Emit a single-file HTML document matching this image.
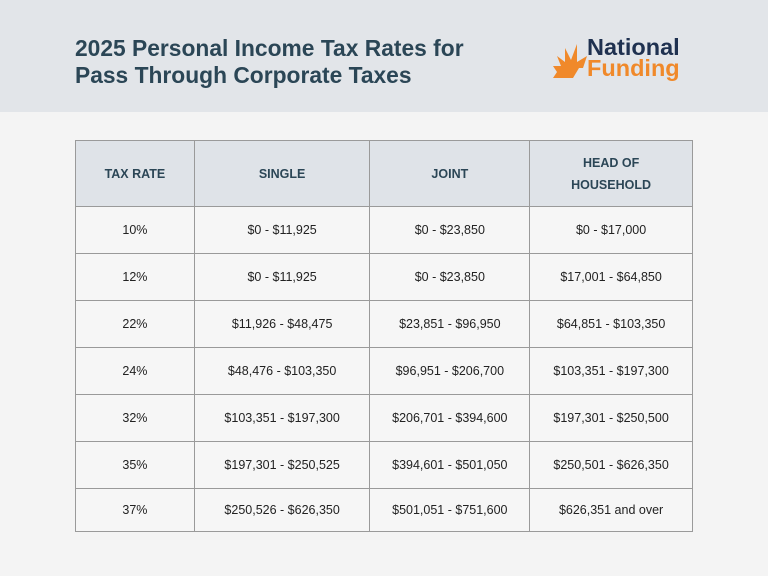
<!DOCTYPE html>
<html><head><style>
body{margin:0;width:768px;height:576px;background:#f4f4f4;font-family:"Liberation Sans",sans-serif;position:relative;overflow:hidden}
.top{position:absolute;left:0;top:0;width:768px;height:112px;background:#e2e5e9}
.title{position:absolute;left:75px;top:35px;font-size:22.8px;font-weight:bold;color:#2b4656;line-height:27px}
.logo{position:absolute;left:587px;top:37px;font-weight:bold;font-size:23.5px;line-height:21px}
table{position:absolute;left:75px;top:140px;border-collapse:collapse;width:618px;font-size:12.5px;color:#222}
td{border:1px solid #9a9a9a;text-align:center;height:46px;padding:0;background:#f6f6f6}
tr.h td{background:#dfe3e8;height:65px;font-weight:bold;color:#2b4656;font-size:12.5px;line-height:22px}
tr.l td{height:42px}
</style></head><body>
<div class="top"></div>
<div class="title">2025 Personal Income Tax Rates for<br>Pass Through Corporate Taxes</div>
<svg style="position:absolute;left:553px;top:42px" width="34" height="36" viewBox="0 0 34 36">
<polygon points="30,36 0,36 4,30 0,24 8,24 4,14 12,20 12,6 18,18 24,2 24,20 34,14 30,26" fill="#f0892a"/>
<polygon points="34,36 20,36 26,26 34,26" fill="#e2e5e9"/>
</svg>
<div class="logo"><span style="color:#1f3150">National</span><br><span style="color:#f0892a">Funding</span></div>
<table>
<colgroup><col style="width:119px"><col style="width:176px"><col style="width:160px"><col style="width:163px"></colgroup>
<tr class="h"><td>TAX RATE</td><td>SINGLE</td><td>JOINT</td><td>HEAD OF<br>HOUSEHOLD</td></tr>
<tr><td>10%</td><td>$0 - $11,925</td><td>$0 - $23,850</td><td>$0 - $17,000</td></tr>
<tr><td>12%</td><td>$0 - $11,925</td><td>$0 - $23,850</td><td>$17,001 - $64,850</td></tr>
<tr><td>22%</td><td>$11,926 - $48,475</td><td>$23,851 - $96,950</td><td>$64,851 - $103,350</td></tr>
<tr><td>24%</td><td>$48,476 - $103,350</td><td>$96,951 - $206,700</td><td>$103,351 - $197,300</td></tr>
<tr><td>32%</td><td>$103,351 - $197,300</td><td>$206,701 - $394,600</td><td>$197,301 - $250,500</td></tr>
<tr><td>35%</td><td>$197,301 - $250,525</td><td>$394,601 - $501,050</td><td>$250,501 - $626,350</td></tr>
<tr class="l"><td>37%</td><td>$250,526 - $626,350</td><td>$501,051 - $751,600</td><td>$626,351 and over</td></tr>
</table>
</body></html>
